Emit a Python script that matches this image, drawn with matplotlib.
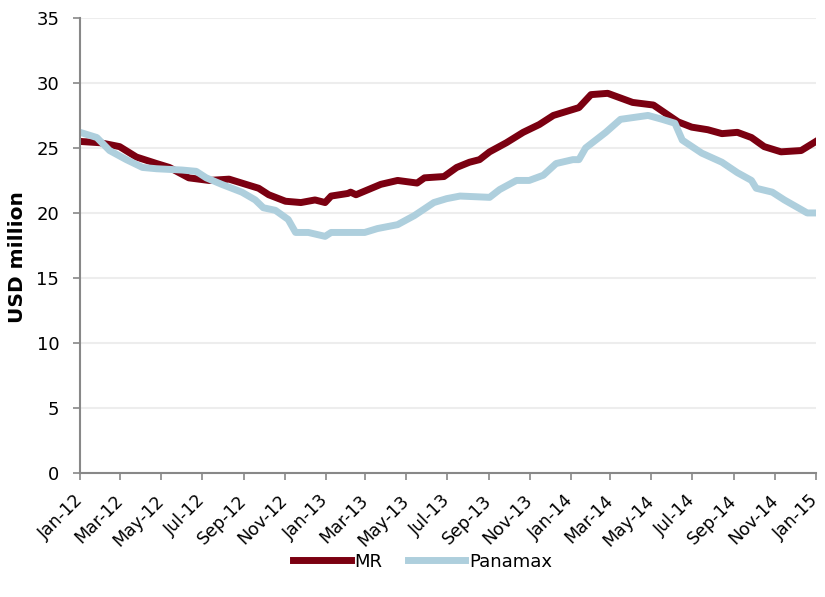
import pandas as pd
import matplotlib
matplotlib.use("Agg")
import matplotlib.pyplot as plt
import matplotlib.dates as mdates

# MR values
mr_dates = ["2012-01-01", "2012-01-31", "2012-02-29", "2012-03-25", "2012-04-24", "2012-05-13",
            "2012-06-11", "2012-07-11", "2012-08-10", "2012-09-04", "2012-09-23", "2012-10-08",
            "2012-11-02", "2012-11-25", "2012-12-16", "2012-12-31", "2013-01-09", "2013-02-03",
            "2013-02-07", "2013-02-15", "2013-03-24", "2013-04-18", "2013-05-17", "2013-05-28",
            "2013-06-26", "2013-07-15", "2013-08-03", "2013-08-18", "2013-09-02", "2013-09-27",
            "2013-10-22", "2013-11-15", "2013-12-06", "2013-12-25", "2014-01-13", "2014-01-31",
            "2014-02-25", "2014-04-03", "2014-05-04", "2014-05-21", "2014-06-10", "2014-06-30",
            "2014-07-24", "2014-08-14", "2014-09-06", "2014-09-27", "2014-10-16", "2014-11-10",
            "2014-12-10", "2015-01-01"]
mr_vals = [25.5, 25.4, 25.1, 24.3, 23.8, 23.5, 22.7, 22.5, 22.6, 22.2, 21.9, 21.4,
           20.9, 20.8, 21.0, 20.8, 21.3, 21.5, 21.6, 21.4, 22.2, 22.5, 22.3, 22.7,
           22.8, 23.5, 23.9, 24.1, 24.7, 25.4, 26.2, 26.8, 27.5, 27.8, 28.1, 29.1,
           29.2, 28.5, 28.3, 27.7, 27.0, 26.6, 26.4, 26.1, 26.2, 25.8, 25.1, 24.7,
           24.8, 25.5]

# Panamax values
pmx_dates = ["2012-01-01", "2012-01-26", "2012-02-14", "2012-03-10", "2012-04-03", "2012-04-24",
             "2012-06-01", "2012-06-22", "2012-07-07", "2012-07-30", "2012-08-29", "2012-09-18",
             "2012-09-30", "2012-10-18", "2012-11-06", "2012-11-17", "2012-12-06", "2012-12-31",
             "2013-01-09", "2013-02-07", "2013-02-28", "2013-03-19", "2013-04-18", "2013-05-13",
             "2013-06-11", "2013-06-30", "2013-07-20", "2013-09-02", "2013-09-17", "2013-10-12",
             "2013-10-31", "2013-11-21", "2013-12-10", "2014-01-04", "2014-01-13", "2014-01-23",
             "2014-02-22", "2014-03-16", "2014-04-26", "2014-05-17", "2014-06-05", "2014-06-16",
             "2014-07-15", "2014-08-14", "2014-09-06", "2014-09-27", "2014-10-04", "2014-10-28",
             "2014-11-15", "2014-12-19", "2015-01-01"]
pmx_vals = [26.2, 25.8, 24.8, 24.1, 23.5, 23.4, 23.3, 23.2, 22.7, 22.2, 21.6, 21.0,
            20.4, 20.2, 19.5, 18.5, 18.5, 18.2, 18.5, 18.5, 18.5, 18.8, 19.1, 19.8,
            20.8, 21.1, 21.3, 21.2, 21.8, 22.5, 22.5, 22.9, 23.8, 24.1, 24.1, 25.0,
            26.2, 27.2, 27.5, 27.2, 26.9, 25.6, 24.6, 23.9, 23.1, 22.5, 21.9, 21.6,
            21.0, 20.0, 20.0]

mr = pd.Series(mr_vals, index=pd.to_datetime(mr_dates))
pmx = pd.Series(pmx_vals, index=pd.to_datetime(pmx_dates))

fig = plt.figure(figsize=(8.25, 5.97), dpi=100)
ax = fig.add_axes([0.097, 0.2077, 0.892, 0.7623])

ax.plot(mr.index, mr.values, color="#7B0011", lw=5, label="MR")
ax.plot(pmx.index, pmx.values, color="#AECFDD", lw=5, label="Panamax")

ax.set_ylim(0, 35)
ax.set_yticks(range(0, 36, 5))
ax.set_xlim(pd.Timestamp("2012-01-01"), pd.Timestamp("2015-01-01"))
ax.xaxis.set_major_locator(mdates.MonthLocator(bymonth=[1, 3, 5, 7, 9, 11]))
ax.xaxis.set_major_formatter(mdates.DateFormatter("%b-%y"))
plt.setp(ax.get_xticklabels(), rotation=45, ha="right", va="center",
         rotation_mode="anchor")

ax.grid(axis="y", color="#EDEDED", lw=1.5)
ax.set_axisbelow(True)
for s in ["top", "right"]:
    ax.spines[s].set_visible(False)
for s in ["left", "bottom"]:
    ax.spines[s].set_color("#888888")
    ax.spines[s].set_linewidth(1.5)
ax.tick_params(axis="both", color="#888888", length=5, width=1.2, labelsize=13)
ax.tick_params(axis="y", pad=10)
ax.tick_params(axis="x", pad=13, labelsize=12.5)
ax.set_ylabel("USD million", fontsize=14.5, fontweight="bold")
ax.yaxis.set_label_coords(-0.072, 0.475)

fig.legend(loc="center", bbox_to_anchor=(0.512, 0.059), ncol=2, frameon=False,
           fontsize=13, handlelength=3.2, columnspacing=1.4, handletextpad=0.2)

fig.savefig("out.png", dpi=100)
